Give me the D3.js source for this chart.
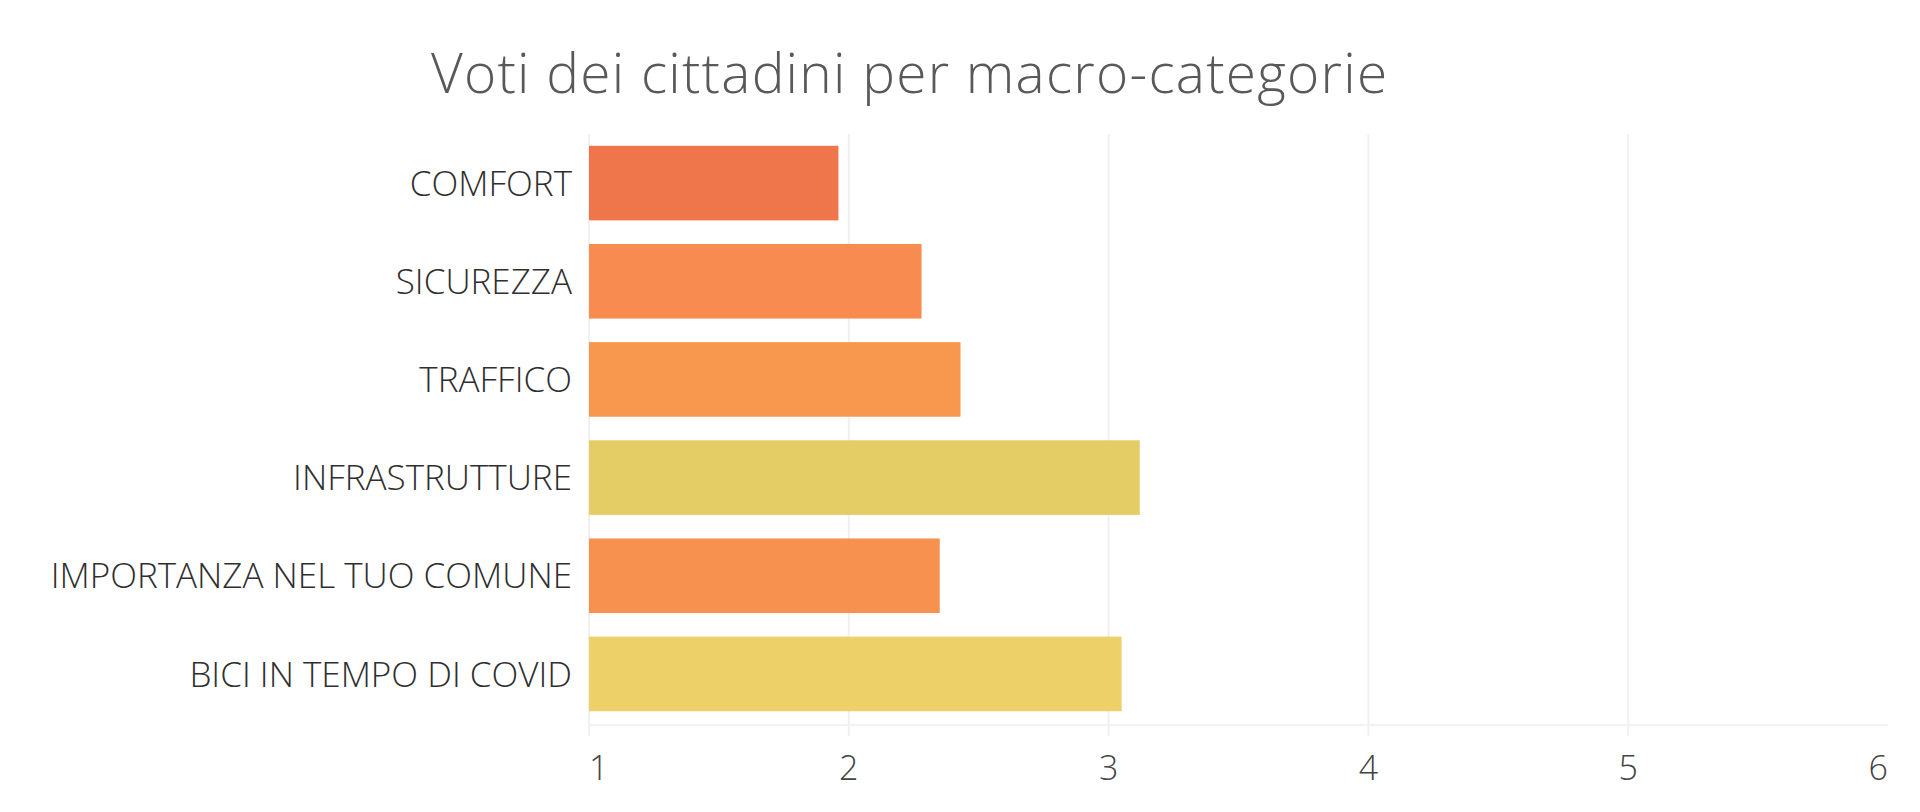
<!DOCTYPE html>
<html>
<head>
<meta charset="utf-8">
<script src="https://cdn.jsdelivr.net/npm/d3@7"></script>
<style>
  html, body { margin: 0; padding: 0; background: #fff; }
  svg { display: block; }
  text { font-family: "Open Sans", "Noto Sans", sans-serif; }
</style>
</head>
<body>
<svg id="chart" width="1920" height="812"></svg>
<script>
const title = "Voti dei cittadini per macro-categorie";
const categories = ["COMFORT", "SICUREZZA", "TRAFFICO", "INFRASTRUTTURE", "IMPORTANZA NEL TUO COMUNE", "BICI IN TEMPO DI COVID"];
const values = [1.96, 2.28, 2.43, 3.12, 2.35, 3.05];
const colors = ["#EF754A", "#F88B4F", "#F8974E", "#E3CD64", "#F6914F", "#EDD067"];
const xTicks = [1, 2, 3, 4, 5, 6];

const svg = d3.select("#chart");

const x = d3.scaleLinear().domain([1, 6]).range([589, 1888]);
const y = d3.scaleBand().domain(categories).range([134, 723]).paddingInner(0.24).paddingOuter(0.12);

// vertical gridlines
svg.append("g").selectAll("line").data(xTicks.filter(d => d < 6)).join("line")
  .attr("x1", d => x(d)).attr("x2", d => x(d))
  .attr("y1", 134).attr("y2", 736)
  .attr("stroke", "#f0f0f0").attr("stroke-width", 2);

// horizontal baseline
svg.append("line").attr("x1", x(1)).attr("x2", x(6)).attr("y1", 725).attr("y2", 725)
  .attr("stroke", "#f2f2f2").attr("stroke-width", 2);

// bars
svg.append("g").selectAll("rect").data(categories).join("rect")
  .attr("x", x(1))
  .attr("y", d => y(d))
  .attr("width", (d, i) => x(values[i]) - x(1))
  .attr("height", y.bandwidth())
  .attr("fill", (d, i) => colors[i]);

// category labels
svg.append("g").selectAll("text").data(categories).join("text")
  .attr("x", 572)
  .attr("y", d => y(d) + y.bandwidth() / 2)
  .attr("dy", "0.36em")
  .attr("text-anchor", "end")
  .attr("font-size", 35)
  .attr("font-weight", 300)
  .attr("fill", "#2f2f2f")
  .text(d => d);

// x tick labels
svg.append("g").selectAll("text").data(xTicks).join("text")
  .attr("x", d => x(d))
  .attr("y", 780)
  .attr("text-anchor", (d, i) => i === 0 ? "start" : (i === xTicks.length - 1 ? "end" : "middle"))
  .attr("font-size", 34)
  .attr("font-weight", 300)
  .attr("fill", "#444")
  .text(d => d);

// title
const t = svg.append("text")
  .attr("x", 431).attr("y", 93)
  .attr("font-size", 55)
  .attr("font-weight", 300)
  .attr("fill", "#595959")
  .text(title);
const w = t.node().getComputedTextLength();
t.attr("letter-spacing", ((956 - w) / (title.length - 1)).toFixed(2));
</script>
</body>
</html>
